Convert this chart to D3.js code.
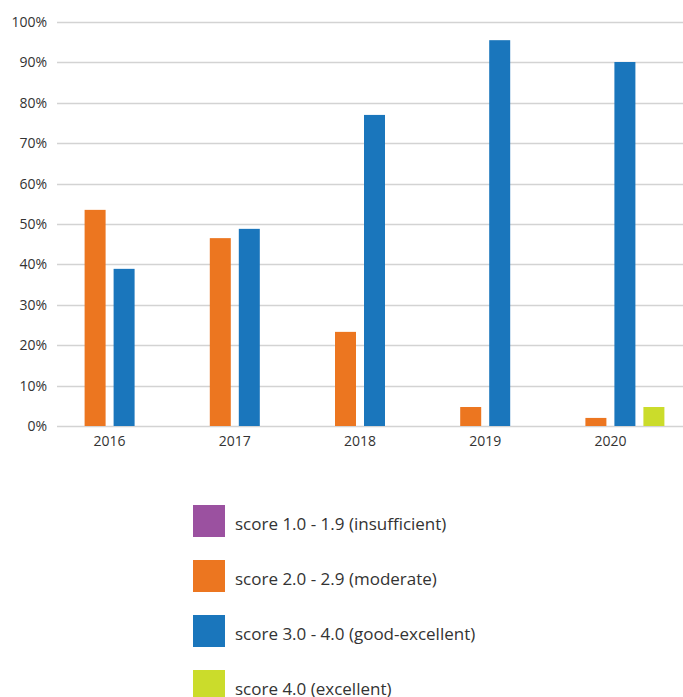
<!DOCTYPE html>
<html>
<head>
<meta charset="utf-8">
<script src="https://cdn.jsdelivr.net/npm/d3@7"></script>
<style>
  body { margin: 0; background: #fff; }
  svg { display: block; font-family: "Open Sans", Lato, sans-serif; }
</style>
</head>
<body>
<div id="chart"></div>
<script>
// data
const years = ["2016", "2017", "2018", "2019", "2020"];
const seriesNames = [
  "score 1.0 - 1.9 (insufficient)",
  "score 2.0 - 2.9 (moderate)",
  "score 3.0 - 4.0 (good-excellent)",
  "score 4.0 (excellent)"
];
const seriesColors = ["#9b51a0", "#ec7620", "#1a76bc", "#cbdc2b"];
const insufficient = [0, 0, 0, 0, 0];
const moderate = [53.5, 46.5, 23.3, 4.7, 2.0];
const goodExcellent = [38.9, 48.8, 77.0, 95.5, 90.1];
const excellent = [0, 0, 0, 0, 4.7];
const yTicks = [0, 10, 20, 30, 40, 50, 60, 70, 80, 90, 100];

const values = [insufficient, moderate, goodExcellent, excellent];

const width = 683, height = 697;
const svg = d3.select("#chart").append("svg")
  .attr("width", width)
  .attr("height", height);

const y = d3.scaleLinear().domain([0, 100]).range([426, 22]);
const x = d3.scaleBand().domain(years).range([47, 673]);
const xInner = d3.scaleBand().domain(d3.range(seriesNames.length))
  .range([0, 108]).paddingInner(0.276);

// gridlines
svg.append("g").selectAll("line")
  .data(yTicks)
  .join("line")
  .attr("x1", 57).attr("x2", width)
  .attr("y1", d => Math.round(y(d)) + 0.5)
  .attr("y2", d => Math.round(y(d)) + 0.5)
  .attr("stroke", "#d3d3d3")
  .attr("stroke-width", 1.5);

// y tick labels
svg.append("g").selectAll("text")
  .data(yTicks)
  .join("text")
  .attr("x", 47)
  .attr("y", d => y(d))
  .attr("dy", "0.35em")
  .attr("text-anchor", "end")
  .attr("font-size", "14px")
  .attr("fill", "#333")
  .text(d => d + "%");

// bars
const groups = svg.append("g").selectAll("g")
  .data(years)
  .join("g")
  .attr("transform", d => `translate(${x(d) + x.bandwidth() / 2 - 54},0)`);

groups.selectAll("rect")
  .data((yr, i) => values.map((s, k) => ({ k, v: s[i] })).filter(d => d.v > 0))
  .join("rect")
  .attr("x", d => xInner(d.k))
  .attr("width", xInner.bandwidth())
  .attr("y", d => y(d.v))
  .attr("height", d => y(0) - y(d.v))
  .attr("fill", d => seriesColors[d.k]);

// x labels
svg.append("g").selectAll("text")
  .data(years)
  .join("text")
  .attr("x", d => x(d) + x.bandwidth() / 2)
  .attr("y", 446)
  .attr("text-anchor", "middle")
  .attr("font-size", "14px")
  .attr("fill", "#333")
  .text(d => d);

// legend
const legend = svg.append("g").attr("transform", "translate(193,505)");
const items = legend.selectAll("g")
  .data(seriesNames)
  .join("g")
  .attr("transform", (d, i) => `translate(0,${i * 55})`);

items.append("rect")
  .attr("width", 32).attr("height", 32)
  .attr("fill", (d, i) => seriesColors[i]);

items.append("text")
  .attr("x", 42)
  .attr("y", 25)
  .attr("font-size", "17px")
  .attr("fill", "#333")
  .text(d => d);
</script>
</body>
</html>
